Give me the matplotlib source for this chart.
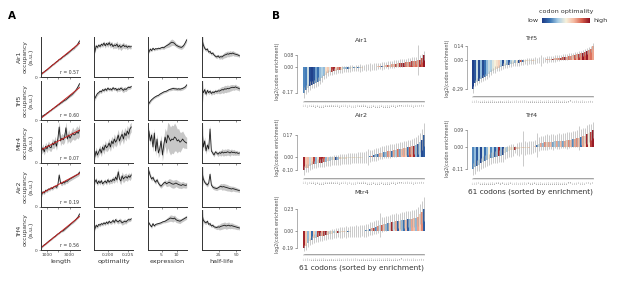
import numpy as np
import matplotlib
matplotlib.use('Agg')
import matplotlib.pyplot as plt
from matplotlib.colors import Normalize, LinearSegmentedColormap
from matplotlib.colorbar import ColorbarBase

# ---------------- panel A data (occupancy, a.u.) ----------------
proteins = ['Air1', 'Trf5', 'Mtr4', 'Air2', 'Trf4']
r_values = [0.57, 0.60, 0.07, 0.19, 0.56]
features = ['length', 'optimality', 'expression', 'half-life']

length_x = [550, 668, 786, 904, 1022, 1140, 1258, 1376, 1494, 1612, 1730, 1848, 1966, 2084, 2202,
            2320, 2438, 2556, 2674, 2792, 2910, 3028, 3146, 3264, 3382, 3500, 3618, 3736, 3854]
opt_x = [0.1840, 0.1856, 0.1872, 0.1888, 0.1904, 0.1920, 0.1936, 0.1952, 0.1968, 0.1984, 0.2000,
         0.2016, 0.2032, 0.2048, 0.2064, 0.2080, 0.2096, 0.2112, 0.2128, 0.2144, 0.2160, 0.2176,
         0.2192, 0.2208, 0.2224, 0.2240, 0.2256, 0.2272, 0.2288]
expr_x = [0.8, 1.25, 1.7, 2.15, 2.6, 3.05, 3.5, 3.95, 4.4, 4.85, 5.3, 5.75, 6.2, 6.65, 7.1, 7.55,
          8.0, 8.45, 8.9, 9.35, 9.8, 10.25, 10.7, 11.15, 11.6, 12.05, 12.5, 12.95, 13.4]
hl_x = [1, 2.9, 4.8, 6.7, 8.6, 10.5, 12.4, 14.3, 16.2, 18.1, 20, 21.9, 23.8, 25.7, 27.6, 29.5,
        31.4, 33.3, 35.2, 37.1, 39, 40.9, 42.8, 44.7, 46.6, 48.5, 50.4, 52.3, 54.2]

air1_len = [0.08,0.11,0.13,0.16,0.18,0.21,0.24,0.27,0.30,0.32,0.35,0.38,0.40,0.44,0.45,0.48,0.51,0.53,0.56,0.58,0.61,0.64,0.67,0.70,0.72,0.76,0.79,0.84,0.90]
air1_opt = [0.62,0.78,0.74,0.80,0.76,0.82,0.79,0.85,0.78,0.84,0.80,0.86,0.79,0.83,0.76,0.80,0.78,0.82,0.75,0.79,0.74,0.77,0.80,0.76,0.78,0.74,0.77,0.75,0.76]
air1_expr = [0.62,0.70,0.66,0.72,0.68,0.71,0.70,0.72,0.71,0.73,0.74,0.73,0.76,0.78,0.80,0.82,0.85,0.87,0.86,0.84,0.80,0.78,0.76,0.75,0.74,0.76,0.80,0.86,0.93]
air1_hl = [0.95,0.80,0.72,0.68,0.70,0.62,0.64,0.58,0.60,0.55,0.52,0.50,0.53,0.49,0.51,0.50,0.53,0.55,0.56,0.58,0.57,0.59,0.58,0.60,0.58,0.57,0.56,0.55,0.53]
trf5_len = [0.08,0.11,0.13,0.15,0.18,0.20,0.23,0.25,0.28,0.30,0.33,0.35,0.38,0.40,0.43,0.45,0.48,0.50,0.52,0.55,0.58,0.61,0.64,0.67,0.71,0.75,0.80,0.86,0.93]
trf5_opt = [0.55,0.62,0.68,0.70,0.74,0.72,0.78,0.75,0.80,0.76,0.82,0.78,0.80,0.77,0.83,0.79,0.81,0.76,0.80,0.78,0.82,0.79,0.76,0.80,0.78,0.82,0.84,0.83,0.86]
trf5_expr = [0.42,0.48,0.52,0.55,0.58,0.60,0.62,0.63,0.66,0.68,0.70,0.72,0.73,0.74,0.76,0.78,0.79,0.80,0.81,0.80,0.80,0.79,0.80,0.79,0.80,0.81,0.83,0.85,0.90]
trf5_hl = [0.80,0.70,0.78,0.66,0.76,0.70,0.74,0.68,0.72,0.70,0.74,0.72,0.75,0.74,0.76,0.78,0.77,0.80,0.79,0.81,0.80,0.82,0.83,0.84,0.83,0.85,0.83,0.82,0.80]
mtr4_len = [0.30,0.38,0.28,0.42,0.35,0.45,0.40,0.38,0.50,0.45,0.55,0.42,0.60,0.90,0.55,0.62,0.58,0.65,0.88,0.60,0.70,0.62,0.68,0.75,0.70,0.72,0.78,0.74,0.82]
mtr4_opt = [0.15,0.30,0.20,0.28,0.35,0.25,0.40,0.32,0.45,0.38,0.42,0.50,0.40,0.55,0.48,0.60,0.52,0.58,0.70,0.55,0.65,0.72,0.60,0.75,0.68,0.80,0.72,0.85,0.90]
mtr4_expr = [0.80,0.55,0.70,0.40,0.75,0.30,0.60,0.25,0.35,0.55,0.20,0.45,0.65,0.50,0.70,0.62,0.55,0.60,0.58,0.65,0.62,0.55,0.58,0.52,0.55,0.60,0.55,0.52,0.50]
mtr4_hl = [0.90,0.40,0.55,0.30,0.45,0.35,0.85,0.30,0.25,0.20,0.28,0.25,0.22,0.26,0.24,0.28,0.25,0.27,0.26,0.28,0.27,0.25,0.28,0.26,0.27,0.25,0.26,0.24,0.25]
air2_len = [0.30,0.38,0.35,0.42,0.40,0.45,0.44,0.48,0.46,0.50,0.52,0.49,0.55,0.80,0.60,0.58,0.62,0.60,0.65,0.64,0.68,0.70,0.72,0.74,0.76,0.78,0.80,0.82,0.87]
air2_opt = [0.62,0.68,0.58,0.65,0.60,0.66,0.58,0.62,0.65,0.60,0.68,0.62,0.66,0.64,0.70,0.66,0.75,0.68,0.88,0.70,0.65,0.78,0.70,0.74,0.76,0.72,0.78,0.74,0.80]
air2_expr = [0.90,0.78,0.70,0.74,0.66,0.62,0.68,0.60,0.55,0.52,0.56,0.60,0.62,0.58,0.60,0.62,0.60,0.58,0.57,0.58,0.60,0.58,0.56,0.55,0.54,0.56,0.55,0.54,0.55]
air2_hl = [0.88,0.70,0.62,0.58,0.55,0.60,0.82,0.55,0.50,0.48,0.47,0.46,0.48,0.50,0.52,0.50,0.51,0.50,0.49,0.48,0.47,0.46,0.45,0.46,0.45,0.44,0.43,0.42,0.41]
trf4_len = [0.07,0.10,0.13,0.15,0.18,0.21,0.24,0.26,0.29,0.32,0.34,0.37,0.40,0.42,0.45,0.47,0.48,0.51,0.54,0.57,0.60,0.63,0.66,0.69,0.72,0.75,0.79,0.83,0.90]
trf4_opt = [0.52,0.62,0.58,0.64,0.62,0.66,0.64,0.68,0.65,0.70,0.66,0.72,0.68,0.70,0.74,0.69,0.76,0.72,0.70,0.74,0.72,0.68,0.70,0.72,0.70,0.74,0.76,0.75,0.78]
trf4_expr = [0.68,0.62,0.58,0.66,0.60,0.64,0.65,0.66,0.67,0.68,0.70,0.71,0.72,0.74,0.76,0.78,0.80,0.79,0.78,0.80,0.76,0.74,0.73,0.72,0.74,0.76,0.78,0.80,0.82]
trf4_hl = [0.90,0.74,0.70,0.68,0.72,0.64,0.66,0.60,0.62,0.58,0.57,0.56,0.58,0.57,0.59,0.60,0.61,0.62,0.60,0.61,0.62,0.60,0.61,0.60,0.59,0.58,0.57,0.56,0.55]

# confidence band half-widths
air1_len_ci = [0.03,0.02,0.02,0.02,0.02,0.02,0.02,0.02,0.02,0.02,0.02,0.02,0.02,0.02,0.02,0.02,0.02,0.02,0.02,0.02,0.02,0.02,0.02,0.03,0.03,0.03,0.03,0.04,0.05]
air1_opt_ci = [0.05,0.05,0.04,0.04,0.04,0.05,0.05,0.05,0.06,0.05,0.06,0.06,0.07,0.06,0.06,0.07,0.07,0.08,0.07,0.07,0.08,0.07,0.07,0.06,0.06,0.06,0.05,0.05,0.05]
air1_expr_ci = [0.04,0.04,0.03,0.03,0.03,0.03,0.03,0.03,0.03,0.03,0.04,0.04,0.04,0.05,0.06,0.07,0.08,0.08,0.07,0.06,0.05,0.05,0.05,0.05,0.05,0.05,0.05,0.05,0.05]
air1_hl_ci = [0.45,0.06,0.05,0.04,0.04,0.04,0.04,0.04,0.04,0.04,0.04,0.04,0.04,0.05,0.05,0.06,0.06,0.07,0.07,0.07,0.07,0.07,0.06,0.06,0.06,0.05,0.05,0.04,0.04]
trf5_len_ci = [0.03,0.02,0.02,0.02,0.02,0.02,0.02,0.02,0.02,0.02,0.02,0.02,0.02,0.02,0.02,0.02,0.02,0.02,0.02,0.02,0.02,0.02,0.03,0.03,0.03,0.03,0.04,0.04,0.05]
trf5_opt_ci = [0.06,0.05,0.05,0.04,0.04,0.04,0.04,0.04,0.04,0.04,0.04,0.04,0.04,0.04,0.04,0.04,0.04,0.05,0.05,0.05,0.05,0.06,0.06,0.06,0.05,0.05,0.05,0.04,0.04]
trf5_expr_ci = [0.04,0.04,0.03,0.03,0.03,0.03,0.03,0.03,0.03,0.03,0.03,0.03,0.03,0.03,0.03,0.03,0.04,0.04,0.04,0.04,0.04,0.04,0.04,0.04,0.04,0.04,0.04,0.04,0.04]
trf5_hl_ci = [0.45,0.06,0.06,0.05,0.05,0.05,0.05,0.05,0.05,0.05,0.05,0.05,0.06,0.07,0.08,0.08,0.09,0.09,0.09,0.09,0.08,0.08,0.08,0.07,0.07,0.07,0.06,0.06,0.06]
mtr4_len_ci = [0.08,0.10,0.08,0.10,0.09,0.10,0.10,0.09,0.12,0.10,0.12,0.10,0.12,0.15,0.12,0.12,0.12,0.13,0.15,0.12,0.14,0.12,0.13,0.15,0.13,0.14,0.15,0.14,0.15]
mtr4_opt_ci = [0.08,0.10,0.08,0.09,0.10,0.09,0.10,0.10,0.11,0.10,0.11,0.12,0.11,0.12,0.12,0.13,0.12,0.13,0.14,0.12,0.13,0.14,0.13,0.14,0.13,0.14,0.14,0.13,0.12]
mtr4_expr_ci = [0.10,0.10,0.10,0.12,0.12,0.12,0.12,0.12,0.14,0.15,0.15,0.18,0.22,0.28,0.32,0.35,0.35,0.35,0.35,0.35,0.32,0.30,0.28,0.25,0.22,0.20,0.18,0.15,0.14]
mtr4_hl_ci = [0.45,0.10,0.10,0.08,0.08,0.08,0.10,0.06,0.05,0.05,0.05,0.05,0.06,0.06,0.07,0.08,0.08,0.08,0.08,0.08,0.08,0.08,0.07,0.07,0.07,0.06,0.06,0.05,0.05]
air2_len_ci = [0.05,0.04,0.04,0.04,0.04,0.04,0.04,0.04,0.04,0.04,0.04,0.04,0.05,0.06,0.05,0.05,0.05,0.05,0.05,0.05,0.05,0.05,0.05,0.05,0.05,0.05,0.05,0.05,0.06]
air2_opt_ci = [0.06,0.06,0.05,0.05,0.05,0.05,0.05,0.05,0.05,0.05,0.06,0.06,0.06,0.06,0.07,0.07,0.08,0.08,0.10,0.09,0.09,0.10,0.10,0.09,0.09,0.08,0.08,0.08,0.08]
air2_expr_ci = [0.08,0.06,0.05,0.05,0.05,0.05,0.05,0.05,0.05,0.05,0.05,0.05,0.06,0.07,0.08,0.09,0.10,0.10,0.10,0.10,0.09,0.09,0.09,0.08,0.08,0.08,0.07,0.07,0.07]
air2_hl_ci = [0.45,0.06,0.05,0.05,0.05,0.05,0.06,0.05,0.05,0.05,0.05,0.05,0.05,0.06,0.07,0.08,0.08,0.08,0.08,0.08,0.07,0.07,0.07,0.06,0.06,0.06,0.05,0.05,0.05]
trf4_len_ci = [0.03,0.02,0.02,0.02,0.02,0.02,0.02,0.02,0.02,0.02,0.02,0.02,0.02,0.02,0.02,0.02,0.02,0.02,0.02,0.02,0.02,0.02,0.02,0.03,0.03,0.03,0.03,0.04,0.05]
trf4_opt_ci = [0.05,0.05,0.04,0.04,0.04,0.04,0.04,0.04,0.04,0.04,0.04,0.04,0.04,0.05,0.05,0.05,0.05,0.05,0.05,0.06,0.06,0.06,0.06,0.06,0.05,0.05,0.05,0.04,0.04]
trf4_expr_ci = [0.04,0.04,0.04,0.03,0.03,0.03,0.03,0.03,0.03,0.03,0.03,0.03,0.04,0.05,0.06,0.07,0.08,0.08,0.08,0.07,0.07,0.06,0.06,0.06,0.05,0.05,0.05,0.05,0.05]
trf4_hl_ci = [0.45,0.05,0.05,0.04,0.04,0.04,0.04,0.04,0.04,0.04,0.04,0.05,0.06,0.07,0.08,0.08,0.08,0.08,0.08,0.08,0.08,0.07,0.07,0.07,0.06,0.06,0.06,0.05,0.05]

# ---------------- panel B data (sorted log2 codon enrichment) ----------------
codons = ['AAA','AAC','AAG','AAT','ACA','ACC','ACG','ACT','AGA','AGC','AGG','AGT','ATA','ATC','ATG','ATT',
          'CAA','CAC','CAG','CAT','CCA','CCC','CCG','CCT','CGA','CGC','CGG','CGT','CTA','CTC','CTG','CTT',
          'GAA','GAC','GAG','GAT','GCA','GCC','GCG','GCT','GGA','GGC','GGG','GGT','GTA','GTC','GTG','GTT',
          'TAC','TAT','TCA','TCC','TCG','TCT','TGC','TGG','TGT','TTA','TTC','TTG','TTT']

air1_enr = [-0.170,-0.150,-0.140,-0.125,-0.118,-0.112,-0.105,-0.098,-0.090,-0.075,
            -0.062,-0.050,-0.042,-0.036,-0.031,-0.027,-0.024,-0.021,-0.019,-0.017,
            -0.015,-0.013,-0.011,-0.010,-0.009,-0.008,-0.007,-0.006,-0.005,-0.004,
            -0.003,-0.002,-0.001,0.000,0.001,0.002,0.003,0.004,0.006,0.008,
            0.010,0.012,0.014,0.016,0.018,0.020,0.022,0.024,0.026,0.028,
            0.030,0.032,0.034,0.036,0.038,0.040,0.043,0.046,0.050,0.060,0.080]
air1_optim = [0.20,0.18,0.40,0.05,0.02,0.08,0.25,0.15,0.30,0.35,0.30,0.55,0.62,0.45,0.90,0.95,0.60,0.75,0.85,0.55,
              0.35,0.30,0.12,0.40,0.50,0.20,0.45,0.15,0.35,0.55,0.05,0.50,0.60,0.45,0.55,0.65,0.50,0.60,0.70,0.10,
              0.55,0.65,0.85,0.60,0.70,0.65,0.88,0.60,0.90,0.92,0.97,0.80,0.70,0.85,0.90,0.75,0.80,0.70,0.92,0.85,0.98]
air1_err = [0.035,0.030,0.028,0.030,0.025,0.028,0.030,0.030,0.025,0.022,
            0.020,0.022,0.020,0.018,0.020,0.022,0.020,0.018,0.020,0.022,
            0.020,0.018,0.020,0.022,0.020,0.018,0.020,0.022,0.025,0.020,
            0.018,0.022,0.020,0.025,0.020,0.022,0.025,0.020,0.022,0.025,
            0.022,0.020,0.025,0.022,0.025,0.028,0.025,0.022,0.025,0.028,
            0.025,0.022,0.028,0.025,0.030,0.028,0.025,0.100,0.030,0.028,0.030]

trf5_enr = [-0.290,-0.225,-0.215,-0.205,-0.190,-0.180,-0.170,-0.160,-0.140,-0.120,
            -0.105,-0.095,-0.085,-0.075,-0.068,-0.060,-0.055,-0.050,-0.045,-0.040,
            -0.036,-0.032,-0.028,-0.025,-0.022,-0.019,-0.016,-0.014,-0.012,-0.010,
            -0.008,-0.006,-0.004,-0.002,0.000,0.002,0.004,0.006,0.008,0.010,
            0.013,0.016,0.019,0.022,0.025,0.028,0.031,0.035,0.039,0.043,
            0.047,0.051,0.056,0.061,0.066,0.072,0.080,0.090,0.100,0.115,0.140]
trf5_optim = [0.02,0.08,0.40,0.05,0.30,0.05,0.15,0.30,0.40,0.35,0.45,0.50,0.55,0.60,0.35,0.05,0.45,0.30,0.08,0.35,
              0.45,0.30,0.50,0.05,0.85,0.15,0.50,0.55,0.50,0.45,0.60,0.50,0.55,0.60,0.90,0.60,0.55,0.70,0.65,0.60,
              0.95,0.65,0.70,0.75,0.90,0.85,0.95,0.70,0.80,0.75,0.65,0.85,0.70,0.90,0.75,0.98,0.85,0.97,0.75,0.80,0.70]
trf5_err = [0.035,0.030,0.032,0.028,0.030,0.028,0.032,0.028,0.030,0.028,
            0.028,0.032,0.028,0.030,0.028,0.032,0.028,0.030,0.028,0.032,
            0.028,0.030,0.028,0.032,0.028,0.030,0.028,0.032,0.028,0.030,
            0.028,0.032,0.028,0.030,0.055,0.030,0.028,0.032,0.028,0.030,
            0.028,0.032,0.028,0.030,0.028,0.032,0.028,0.030,0.028,0.032,
            0.028,0.030,0.028,0.032,0.028,0.030,0.028,0.032,0.028,0.030,0.030]

air2_enr = [-0.100,-0.085,-0.080,-0.070,-0.062,-0.055,-0.050,-0.047,-0.045,-0.043,
            -0.040,-0.036,-0.032,-0.029,-0.026,-0.024,-0.022,-0.020,-0.018,-0.016,
            -0.014,-0.012,-0.011,-0.010,-0.009,-0.008,-0.007,-0.006,-0.005,-0.004,
            -0.002,0.000,0.003,0.006,0.010,0.014,0.020,0.026,0.030,0.034,
            0.037,0.040,0.043,0.046,0.049,0.052,0.055,0.058,0.061,0.064,
            0.067,0.070,0.073,0.076,0.080,0.085,0.090,0.095,0.110,0.130,0.170]
air2_optim = [0.95,0.62,0.65,0.40,0.60,0.90,0.30,0.55,0.92,0.95,0.85,0.30,0.60,0.35,0.40,0.55,0.05,0.30,0.60,0.50,
              0.45,0.55,0.50,0.45,0.50,0.55,0.50,0.45,0.55,0.50,0.05,0.85,0.70,0.20,0.80,0.10,0.30,0.15,0.70,0.60,
              0.20,0.30,0.75,0.65,0.15,0.70,0.35,0.80,0.25,0.65,0.70,0.60,0.15,0.85,0.70,0.95,0.30,0.10,0.35,0.05,0.10]
air2_err = [0.035,0.030,0.030,0.028,0.030,0.028,0.030,0.032,0.030,0.035,
            0.035,0.032,0.035,0.038,0.035,0.038,0.035,0.038,0.040,0.038,
            0.040,0.038,0.040,0.042,0.040,0.038,0.040,0.042,0.040,0.045,
            0.042,0.045,0.060,0.045,0.042,0.045,0.048,0.045,0.048,0.050,
            0.048,0.050,0.048,0.050,0.052,0.050,0.052,0.050,0.055,0.052,
            0.055,0.052,0.058,0.055,0.058,0.060,0.065,0.070,0.075,0.080,0.090]

trf4_enr = [-0.110,-0.100,-0.095,-0.090,-0.082,-0.076,-0.070,-0.065,-0.060,-0.056,
            -0.052,-0.049,-0.047,-0.045,-0.042,-0.038,-0.030,-0.024,-0.020,-0.016,
            -0.013,-0.011,-0.009,-0.007,-0.005,-0.004,-0.003,-0.002,-0.001,0.000,
            0.003,0.006,0.012,0.018,0.022,0.024,0.025,0.026,0.027,0.028,
            0.029,0.030,0.031,0.032,0.033,0.034,0.035,0.036,0.038,0.040,
            0.042,0.044,0.046,0.049,0.052,0.056,0.060,0.066,0.072,0.080,0.090]
trf4_optim = [0.20,0.30,0.10,0.35,0.05,0.40,0.15,0.30,0.50,0.20,0.35,0.10,0.30,0.95,0.30,0.05,0.45,0.35,0.50,0.55,
              0.50,0.92,0.60,0.55,0.50,0.60,0.55,0.50,0.60,0.55,0.95,0.60,0.15,0.40,0.70,0.30,0.75,0.60,0.70,0.65,
              0.25,0.35,0.70,0.30,0.65,0.25,0.70,0.60,0.75,0.65,0.20,0.70,0.75,0.65,0.15,0.70,0.60,0.95,0.50,0.90,0.97]
trf4_err = [0.030,0.035,0.028,0.030,0.028,0.030,0.032,0.030,0.028,0.030,
            0.030,0.032,0.035,0.030,0.032,0.035,0.030,0.032,0.030,0.035,
            0.030,0.020,0.032,0.035,0.030,0.090,0.035,0.030,0.032,0.035,
            0.030,0.032,0.060,0.035,0.038,0.035,0.038,0.040,0.035,0.038,
            0.040,0.035,0.038,0.040,0.035,0.038,0.040,0.042,0.040,0.038,
            0.042,0.040,0.045,0.060,0.040,0.045,0.040,0.050,0.045,0.040,0.040]

mtr4_enr = [-0.190,-0.170,-0.130,-0.115,-0.100,-0.085,-0.078,-0.070,-0.062,-0.058,
            -0.055,-0.052,-0.050,-0.040,-0.034,-0.030,-0.027,-0.024,-0.021,-0.019,
            -0.017,-0.015,-0.013,-0.011,-0.010,-0.009,-0.008,-0.006,-0.004,-0.002,
            0.000,0.004,0.010,0.018,0.026,0.032,0.040,0.048,0.056,0.062,
            0.068,0.074,0.080,0.086,0.091,0.095,0.099,0.103,0.106,0.110,
            0.113,0.116,0.120,0.124,0.128,0.133,0.140,0.150,0.180,0.200,0.230]
mtr4_optim = [0.95,0.62,0.30,0.55,0.15,0.60,0.35,0.90,0.95,0.70,0.90,0.97,0.60,0.40,0.55,0.35,0.50,0.95,0.45,0.55,
              0.60,0.50,0.15,0.45,0.60,0.50,0.55,0.50,0.95,0.55,0.35,0.20,0.45,0.15,0.70,0.90,0.20,0.75,0.40,0.85,
              0.65,0.30,0.20,0.60,0.95,0.40,0.70,0.10,0.60,0.30,0.15,0.65,0.10,0.30,0.70,0.65,0.30,0.70,0.60,0.75,0.10]
mtr4_err = [0.030,0.040,0.045,0.040,0.045,0.050,0.045,0.050,0.045,0.050,
            0.045,0.050,0.045,0.050,0.055,0.050,0.055,0.050,0.055,0.060,
            0.055,0.060,0.055,0.060,0.055,0.060,0.065,0.060,0.065,0.060,
            0.065,0.070,0.065,0.070,0.070,0.070,0.075,0.070,0.130,0.080,
            0.075,0.080,0.075,0.080,0.085,0.080,0.085,0.080,0.085,0.090,
            0.085,0.090,0.085,0.090,0.095,0.090,0.095,0.100,0.110,0.120,0.130]

# ---------------- figure ----------------
W, H = 617, 299
fig = plt.figure(figsize=(W / 100, H / 100), dpi=100)


def px_axes(l, t, r, b):
    return fig.add_axes([l / W, 1 - b / H, (r - l) / W, (b - t) / H])


occ = [[air1_len, air1_opt, air1_expr, air1_hl],
       [trf5_len, trf5_opt, trf5_expr, trf5_hl],
       [mtr4_len, mtr4_opt, mtr4_expr, mtr4_hl],
       [air2_len, air2_opt, air2_expr, air2_hl],
       [trf4_len, trf4_opt, trf4_expr, trf4_hl]]
occ_ci = [[air1_len_ci, air1_opt_ci, air1_expr_ci, air1_hl_ci],
          [trf5_len_ci, trf5_opt_ci, trf5_expr_ci, trf5_hl_ci],
          [mtr4_len_ci, mtr4_opt_ci, mtr4_expr_ci, mtr4_hl_ci],
          [air2_len_ci, air2_opt_ci, air2_expr_ci, air2_hl_ci],
          [trf4_len_ci, trf4_opt_ci, trf4_expr_ci, trf4_hl_ci]]
xs = [length_x, opt_x, expr_x, hl_x]
xlims = [(500, 3900), (0.183, 0.231), (0.5, 13.5), (1, 55)]
xticks = [[1000, 2000, 3000], [0.200, 0.225], [5, 10], [25, 50]]
xticklabels = [['1000', '', '3000'], ['0.200', '0.225'], ['5', '10'], ['25', '50']]

col_px = [(41, 80), (94, 133), (148, 187), (202, 240)]
row_px = [(37, 77), (81, 120), (123, 163), (167, 207), (210, 250)]

for i, prot in enumerate(proteins):
    for j in range(4):
        ax = px_axes(col_px[j][0], row_px[i][0], col_px[j][1], row_px[i][1])
        x = np.array(xs[j])
        y = np.array(occ[i][j])
        ci = np.array(occ_ci[i][j])
        ax.fill_between(x, y - ci, y + ci, color='0.78', lw=0)
        ax.plot(x, y, color='0.1', lw=0.6)
        ax.set_xlim(xlims[j])
        ax.set_ylim(0, 1)
        for s in ['top', 'right']:
            ax.spines[s].set_visible(False)
        for s in ['left', 'bottom']:
            ax.spines[s].set_linewidth(0.7)
            ax.spines[s].set_color('0.2')
        ax.tick_params(length=1.5, width=0.4, labelsize=3.2, pad=1, colors='0.25')
        ax.set_xticks(xticks[j])
        if j == 0:
            fit = np.polyfit(x, y, 1)
            ax.plot(x, np.polyval(fit, x), color='#c42222', lw=0.7)
            ax.text(0.98, 0.06, f'r = {r_values[i]:.2f}', transform=ax.transAxes,
                    ha='right', va='bottom', fontsize=3.3, color='0.2')
            ax.set_yticks([0])
            ax.set_ylabel(f'{prot}\noccupancy\n(a.u.)', fontsize=4.4, labelpad=1, color='0.2')
        else:
            ax.set_yticks([])
        if i == len(proteins) - 1:
            ax.set_xticklabels(xticklabels[j])
            ax.set_xlabel(features[j], fontsize=4.6, labelpad=1, color='0.2')
        else:
            ax.set_xticklabels([])

# panel B
cmap = LinearSegmentedColormap.from_list(
    'optimality', ['#1d3a85', '#3a75b5', '#a8cde4', '#f7f1dc', '#f4b8a0', '#d6604d', '#8c0d1f'])
norm = Normalize(0, 1)
bar_panels = [
    ('Air1', air1_enr, air1_optim, air1_err, (297, 44.5, 426, 98.5), (-0.21, 0.15), (-3.5, 61), False),
    ('Trf5', trf5_enr, trf5_optim, trf5_err, (467, 43, 595, 94), (-0.34, 0.17), (-3, 61), False),
    ('Air2', air2_enr, air2_optim, air2_err, (297, 120, 426, 175.5), (-0.14, 0.28), (-3.5, 61), False),
    ('Trf4', trf4_enr, trf4_optim, trf4_err, (467, 120, 595, 175.7), (-0.145, 0.14), (-3, 61), True),
    ('Mtr4', mtr4_enr, mtr4_optim, mtr4_err, (297, 197, 426, 252), (-0.23, 0.36), (-3.5, 61), True),
]
for name, enr, optim, err, box, ylim, xlim, with_xlabel in bar_panels:
    ax = px_axes(*box)
    pos = np.arange(len(enr))
    ax.bar(pos, enr, width=0.85, color=cmap(norm(optim)), lw=0)
    ax.errorbar(pos, enr, yerr=err, fmt='none', ecolor='0.68', elinewidth=0.45, capsize=0)
    ax.set_ylim(ylim)
    ax.set_xlim(xlim)
    lo, hi = min(enr), max(enr)
    ax.set_yticks([lo, 0, hi])
    ax.set_yticklabels([f'{lo:.2f}', '0.00', f'{hi:.2f}'])
    ax.spines['left'].set_bounds(lo, hi)
    ax.spines['bottom'].set_bounds(0, len(enr) - 1)
    ax.spines['bottom'].set_position(('outward', 1.5))
    for s in ['top', 'right']:
        ax.spines[s].set_visible(False)
    for s in ['left', 'bottom']:
        ax.spines[s].set_linewidth(0.4)
        ax.spines[s].set_color('0.45')
    ax.set_xticks(pos)
    ax.set_xticklabels(codons, rotation=90, fontsize=1.15, color='0.2')
    ax.tick_params(axis='x', length=1.2, width=0.25, pad=0.6, colors='0.4')
    ax.tick_params(axis='y', length=1.5, width=0.4, labelsize=3.3, pad=1, colors='0.3')
    ax.set_ylabel('log2(codon enrichment)', fontsize=3.4, labelpad=1, color='0.3')
    ax.set_title(name, fontsize=4.6, pad=2, color='0.2')
    if with_xlabel:
        ax.set_xlabel('61 codons (sorted by enrichment)', fontsize=5.3, labelpad=3, color='0.2')

# colorbar
cax = px_axes(542, 18, 590, 23)
cb = ColorbarBase(cax, cmap=cmap, norm=norm, orientation='horizontal')
cb.set_ticks([])
cb.outline.set_visible(False)
fig.text(566 / W, 1 - 12 / H, 'codon optimality', fontsize=4.6, ha='center', va='center', color='0.2')
fig.text(539 / W, 1 - 20.5 / H, 'low', fontsize=4.6, ha='right', va='center', color='0.2')
fig.text(593 / W, 1 - 20.5 / H, 'high', fontsize=4.6, ha='left', va='center', color='0.2')

fig.text(8 / W, 1 - 16 / H, 'A', fontsize=7.5, weight='bold', va='center')
fig.text(272 / W, 1 - 16 / H, 'B', fontsize=7.5, weight='bold', va='center')

fig.savefig('out.png', dpi=100)
